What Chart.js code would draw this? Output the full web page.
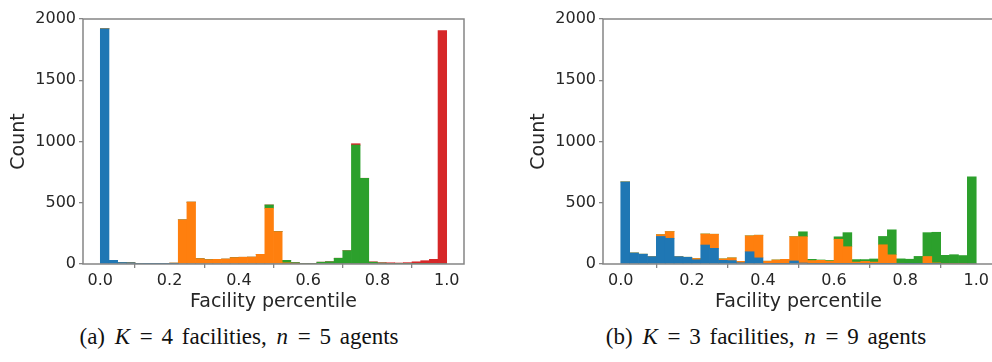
<!DOCTYPE html>
<html>
<head>
<meta charset="utf-8">
<script src="https://cdn.jsdelivr.net/npm/chart.js@4.4.1/dist/chart.umd.min.js"></script>
<style>
  html, body { margin: 0; padding: 0; background: #fff; overflow: hidden; }
  #page { position: relative; width: 992px; height: 362px; overflow: hidden; }
  canvas { position: absolute; top: 0; }
  .cap {
    position: absolute; top: 324px; width: 420px; text-align: center;
    font-family: "Liberation Serif", serif; font-size: 23px; color: #111;
    white-space: nowrap; word-spacing: 3px;
  }
  .cap i { margin: 0 1px; }
</style>
</head>
<body>
<div id="page">
  <canvas id="chartA" width="496" height="313" style="left:0"></canvas>
  <canvas id="chartB" width="480" height="313" style="left:520px"></canvas>
  <div class="cap" style="left:29px">(a) <i>K</i> = 4 facilities, <i>n</i> = 5 agents</div>
  <div class="cap" style="left:556px">(b) <i>K</i> = 3 facilities, <i>n</i> = 9 agents</div>
</div>
<script>
// histogram bins (width 0.025), centres
var binCenters = [0.0125, 0.0375, 0.0625, 0.0875, 0.1125, 0.1375, 0.1625, 0.1875, 0.2125, 0.2375,
                  0.2625, 0.2875, 0.3125, 0.3375, 0.3625, 0.3875, 0.4125, 0.4375, 0.4625, 0.4875,
                  0.5125, 0.5375, 0.5625, 0.5875, 0.6125, 0.6375, 0.6625, 0.6875, 0.7125, 0.7375,
                  0.7625, 0.7875, 0.8125, 0.8375, 0.8625, 0.8875, 0.9125, 0.9375, 0.9625, 0.9875]
var xTicks = [0, 0.2, 0.4, 0.6, 0.8, 1.0]
var yTicks = [0, 500, 1000, 1500, 2000]
var colors = ['#1f77b4', '#ff7f0e', '#2ca02c', '#d62728']

// (a) K = 4 facilities, n = 5 agents
var blueA   = [1920, 30, 12, 10, 4, 3, 3, 3, 2, 0,   0, 0, 0, 0, 0, 0, 0, 0, 0, 0,
               0, 0, 0, 0, 0, 0, 0, 0, 0, 0,   0, 0, 0, 0, 0, 0, 0, 0, 0, 0]
var orangeA = [0, 0, 0, 0, 0, 0, 0, 0, 5, 360,   505, 43, 35, 38, 40, 52, 55, 56, 79, 455,
               264, 10, 3, 0, 0, 0, 0, 0, 0, 0,   0, 0, 0, 0, 0, 0, 0, 0, 0, 0]
var greenA  = [0, 0, 0, 0, 0, 0, 0, 0, 0, 0,   0, 0, 0, 0, 0, 0, 0, 0, 0, 27,
               0, 20, 8, 5, 5, 15, 19, 47, 109, 970,   700, 15, 8, 5, 3, 3, 3, 2, 0, 0]
var redA    = [0, 0, 0, 0, 0, 0, 0, 0, 0, 0,   0, 0, 0, 0, 0, 0, 0, 0, 0, 0,
               0, 0, 0, 0, 0, 0, 0, 0, 0, 12,   0, 3, 3, 5, 5, 8, 15, 25, 38, 1905]

// (b) K = 3 facilities, n = 9 agents
var blueB   = [670, 90, 80, 60, 225, 210, 60, 55, 35, 155,   128, 30, 28, 10, 100, 50, 5, 3, 3, 25,
               8, 3, 2, 2, 2, 1, 1, 1, 1, 2,   1, 1, 1, 1, 1, 1, 0, 0, 0, 0]
var orangeB = [0, 0, 0, 0, 15, 55, 0, 0, 10, 90,   115, 12, 22, 12, 130, 185, 18, 30, 35, 198,
               215, 25, 28, 22, 200, 140, 15, 20, 15, 155,   74, 5, 3, 3, 60, 8, 3, 2, 1, 0]
var greenB  = [0, 0, 0, 0, 0, 0, 0, 0, 0, 0,   0, 0, 0, 0, 0, 0, 0, 0, 0, 0,
               40, 10, 3, 5, 20, 115, 20, 15, 25, 68,   204, 36, 35, 58, 195, 250, 68, 74, 68, 711]

var spineColor = '#858585'
var tickFont = {family: 'DejaVu Sans', size: 16}
var labelFont = {family: 'DejaVu Sans', size: 19}

var framePlugin = {
    id: 'frame',
    afterDraw: function (chart) {
        var a = chart.chartArea, ctx = chart.ctx
        ctx.save()
        ctx.strokeStyle = spineColor
        ctx.lineWidth = 1.5
        ctx.strokeRect(a.left, a.top, a.right - a.left, a.bottom - a.top)
        ctx.restore()
    }
}

function toPoints(values) {
    var pts = []
    for (var i = 0; i < values.length; i++) {
        pts.push({x: binCenters[i], y: values[i]})
    }
    return pts
}

function makeChart(id, series, padRight) {
    var datasets = []
    for (var i = 0; i < series.length; i++) {
        datasets.push({
            data: toPoints(series[i]),
            backgroundColor: colors[i],
            borderWidth: 0,
            barPercentage: 1.0,
            categoryPercentage: 1.0
        })
    }
    return new Chart(document.getElementById(id), {
        type: 'bar',
        data: {datasets: datasets},
        plugins: [framePlugin],
        options: {
            responsive: false,
            animation: false,
            devicePixelRatio: 1,
            layout: {padding: {top: 19, right: padRight, left: 0, bottom: 0}},
            plugins: {legend: {display: false}, tooltip: {enabled: false}},
            scales: {
                x: {
                    type: 'linear',
                    stacked: true,
                    offset: false,
                    min: -0.05,
                    max: 1.05,
                    afterBuildTicks: function (s) {
                        s.ticks = xTicks.map(function (v) { return {value: v} })
                    },
                    afterFit: function (s) { s.height = 49 },
                    border: {display: false},
                    grid: {drawOnChartArea: false, drawTicks: true, tickLength: 4, color: spineColor, lineWidth: 1.3},
                    ticks: {
                        font: tickFont, color: '#262626', padding: 3, maxRotation: 0, autoSkip: false,
                        callback: function (v) { return Number(v).toFixed(1) }
                    },
                    title: {display: true, text: 'Facility percentile', font: labelFont, color: '#262626', padding: {top: 0, bottom: 0}}
                },
                y: {
                    stacked: true,
                    min: 0,
                    max: 2000,
                    afterBuildTicks: function (s) {
                        s.ticks = yTicks.map(function (v) { return {value: v} })
                    },
                    afterFit: function (s) { s.width = 83 },
                    border: {display: false},
                    grid: {drawOnChartArea: false, drawTicks: true, tickLength: 4, color: spineColor, lineWidth: 1.3},
                    ticks: {
                        font: tickFont, color: '#262626', padding: 3,
                        callback: function (v) { return String(v) }
                    },
                    title: {display: true, text: 'Count', font: labelFont, color: '#262626', padding: {top: 7.6, bottom: 0}}
                }
            }
        }
    })
}

makeChart('chartA', [blueA, orangeA, greenA, redA], 32)
makeChart('chartB', [blueB, orangeB, greenB], 6)
</script>
</body>
</html>
